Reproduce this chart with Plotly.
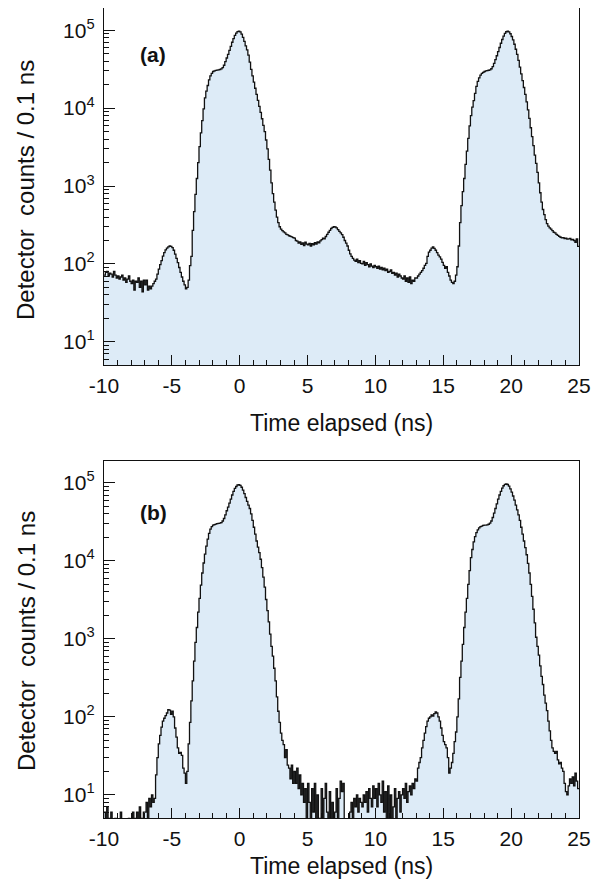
import numpy as np
import plotly.graph_objects as go

# ---------------- data (counts per 0.1 ns bin, bins start at -10.0 ns) ----------------
BIN_START = -10.0
BIN_WIDTH = 0.1

counts_a = [
    72, 78, 80, 70, 76, 74, 68, 80, 72, 66,            # -10
    70, 64, 68, 72, 62, 66, 58, 64, 70, 60,            # -9
    56, 62, 46, 60, 58, 66, 50, 60, 44, 62,            # -8
    54, 62, 46, 52, 48, 52, 56, 60, 64, 74,            # -7
    86, 98, 110, 126, 140, 152, 160, 166, 170, 168,    # -6
    162, 150, 134, 118, 104, 90, 78, 68, 60, 54,       # -5
    48, 50, 62, 95, 125, 270, 470, 780, 1250, 2000,    # -4
    3200, 4800, 6900, 9800, 13500, 16500, 19500, 23000, 26000, 28000,  # -3
    29500, 30000, 30500, 30800, 31000, 31300, 31800, 33000, 35500, 39500,  # -2
    44000, 49000, 55000, 62000, 70000, 78000, 86000, 92000, 96000, 97000,  # -1
    95000, 89000, 81000, 72000, 63000, 56000, 48000, 39000, 31500, 26000,  # 0
    21500, 18000, 15000, 12600, 10500, 8800, 7300, 6000, 5000, 3900,      # 1
    3000, 2200, 1600, 1100, 800, 620, 490, 400, 340, 300,                 # 2
    280, 268, 258, 250, 240, 236, 230, 226, 222, 218,  # 3
    215, 200, 196, 185, 192, 178, 186, 172, 190, 180,  # 4
    176, 184, 170, 182, 176, 188, 180, 192, 186, 198,  # 5
    205, 215, 210, 225, 240, 255, 270, 285, 295, 300,  # 6
    298, 290, 275, 262, 250, 238, 220, 200, 185, 170,  # 7
    150, 135, 125, 118, 112, 108, 115, 104, 110, 102,  # 8
    100, 108, 96, 104, 98, 92, 100, 94, 90, 96,        # 9
    92, 88, 94, 86, 90, 84, 88, 82, 86, 78,            # 10
    80, 84, 76, 78, 72, 76, 68, 74, 70, 66,            # 11
    64, 70, 60, 66, 58, 68, 56, 62, 60, 66,            # 12
    66, 70, 74, 78, 82, 88, 96, 102, 125, 142,         # 13
    150, 160, 166, 158, 150, 140, 130, 123, 115, 105,  # 14
    96, 88, 92, 78, 70, 62, 58, 56, 60, 72,            # 15
    92, 170, 340, 560, 850, 1250, 1900, 2800, 4100, 5900,                  # 16
    8000, 10300, 12500, 15500, 19000, 22000, 24500, 26500, 28000, 28800,   # 17
    29500, 30000, 30300, 30600, 31000, 32000, 34000, 37500, 42000, 47000,  # 18
    53000, 60000, 68000, 76000, 84000, 91000, 95500, 97000, 95000, 90000,  # 19
    83000, 75000, 66000, 57000, 49000, 41000, 33500, 27500, 22500, 18400,  # 20
    15000, 12000, 9500, 7400, 5600, 4300, 3300, 2500, 1950, 1500,          # 21
    1100, 820, 620, 500, 430, 370, 330, 305, 290, 280,                     # 22
    268, 255, 250, 240, 232, 226, 220, 216, 218, 212,  # 23
    214, 208, 210, 212, 204, 206, 200, 190, 210, 168,  # 24
]

counts_b = [
    6, 3, 7, 5, 3, 6, 3, 3, 5, 3,                      # -10
    3, 3, 6, 3, 3, 3, 3, 3, 5, 3,                      # -9
    3, 6, 3, 5, 6, 3, 7, 5, 3, 6,                      # -8
    6, 8, 5, 9, 7, 10, 8, 9, 18, 30,                   # -7
    45, 58, 74, 88, 96, 104, 112, 124, 122, 108,       # -6
    118, 100, 72, 55, 40, 34, 35, 32, 22, 19,          # -5
    14, 20, 45, 85, 160, 290, 520, 900, 1400, 2200,    # -4
    3300, 4900, 7000, 9400, 12200, 15500, 19000, 22500, 25500, 27500,     # -3
    28700, 29200, 29600, 30000, 30200, 30500, 31000, 32500, 35000, 39000, # -2
    44000, 49000, 55000, 62000, 70000, 78000, 85000, 90000, 94000, 95000, # -1
    93000, 88000, 81000, 73000, 65000, 58000, 52000, 47000, 40000, 33000, # 0
    27000, 22000, 18000, 15000, 12800, 10500, 8200, 6200, 4600, 3200,     # 1
    2300, 1650, 1150, 800, 600, 420, 290, 180, 118, 85,                   # 2
    62, 50, 44, 30, 38, 24, 22, 16, 24, 14,            # 3
    20, 14, 22, 12, 18, 10, 14, 8, 12, 3,              # 4
    14, 8, 3, 12, 6, 14, 3, 10, 5, 3,                  # 5
    12, 3, 9, 14, 6, 3, 11, 4, 8, 3,                   # 6
    6, 12, 4, 9, 15, 11, 14, 3, 3, 3,                  # 7
    3, 6, 8, 5, 9, 7, 10, 6, 9, 8,                     # 8
    7, 10, 8, 11, 6, 12, 9, 7, 13, 9,                  # 9
    12, 7, 14, 10, 8, 15, 6, 11, 3, 13,                # 10
    3, 10, 3, 7, 12, 3, 9, 11, 6, 10,                  # 11
    12, 9, 14, 8, 11, 13, 10, 14, 12, 16,              # 12
    15, 22, 26, 30, 40, 50, 62, 75, 88, 96,            # 13
    100, 106, 102, 110, 116, 112, 100, 88, 72, 58,     # 14
    48, 44, 40, 30, 19, 22, 26, 34, 48, 64,            # 15
    100, 170, 320, 520, 850, 1400, 2200, 3300, 5000, 7500,                # 16
    11000, 14000, 17500, 20500, 23000, 25000, 26500, 27500, 28000, 28500, # 17
    28700, 28800, 29000, 29500, 30500, 32500, 36000, 41000, 47000, 54000, # 18
    62000, 70000, 78000, 86000, 92000, 96000, 97000, 95500, 91000, 84000, # 19
    76000, 68000, 60000, 52000, 45000, 39000, 33000, 27000, 22000, 18000, # 20
    14800, 12000, 9300, 7000, 5000, 3500, 2400, 1600, 1050, 800,          # 21
    620, 450, 330, 260, 190, 150, 120, 88, 66, 50,     # 22
    40, 36, 34, 36, 28, 25, 26, 22, 20, 14,            # 23
    11, 10, 13, 16, 14, 17, 13, 19, 15, 12,            # 24
]

x_tick_vals = [-10, -5, 0, 5, 10, 15, 20, 25]
x_tick_text = ["-10", "-5", "0", "5", "10", "15", "20", "25"]
y_tick_vals = [10, 100, 1000, 10000, 100000]
y_tick_text = ["10<sup>1</sup>", "10<sup>2</sup>", "10<sup>3</sup>",
               "10<sup>4</sup>", "10<sup>5</sup>"]
panel_labels = ["(a)", "(b)"]
x_title = "Time elapsed (ns)"
y_title = "Detector  counts / 0.1 ns"

# ---------------- figure ----------------
FONT = "Liberation Sans, Arial, Helvetica, sans-serif"
FILL = "rgb(221,235,247)"
INK = "#111111"

# the page body adds an 8px offset; figure sized/positioned to compensate
OFF = 8
W, H = 591, 874
ML, MR, MT, MB = 96, 20, 0, 64
plot_h = H - MT - MB
plot_w = W - ML - MR


def py2paper(py):
    # py: page pixel coordinate
    return (plot_h - (py - OFF - MT)) / plot_h


def px2paper(px):
    return (px - OFF - ML) / plot_w


fig = go.Figure()

minor_y = [m * 10 ** k for k in range(0, 6) for m in range(2, 10)]

for i, counts in enumerate([counts_a, counts_b]):
    n = len(counts)
    edges = BIN_START + BIN_WIDTH * np.arange(n + 1)
    yvals = list(counts) + [counts[-1]]
    xa = "x" if i == 0 else "x2"
    ya = "y" if i == 0 else "y2"
    # baseline (below axis range) so the fill reaches the bottom of the plot
    fig.add_trace(go.Scatter(x=[edges[0], edges[-1]], y=[1, 1], mode="lines",
                             line=dict(width=0, color=FILL), xaxis=xa, yaxis=ya,
                             showlegend=False, hoverinfo="skip"))
    fig.add_trace(go.Scatter(x=edges, y=yvals, mode="lines", line_shape="hv",
                             line=dict(color=INK, width=1.3), fill="tonexty",
                             fillcolor=FILL, xaxis=xa, yaxis=ya, showlegend=False))

xaxis_common = dict(
    range=[-10, 25], tickmode="array", tickvals=x_tick_vals, ticktext=x_tick_text,
    ticks="inside", ticklen=10, tickwidth=1.2, tickcolor=INK,
    minor=dict(ticks="inside", ticklen=5, tickwidth=1.2, tickcolor=INK, dtick=1, tick0=0),
    showline=True, linecolor=INK, linewidth=1.3, mirror=True,
    showgrid=False, zeroline=False,
    tickfont=dict(family=FONT, size=21, color=INK), ticklabelstandoff=2,
)
yaxis_common = dict(
    type="log", range=[0.703, 5.285], tickmode="array",
    tickvals=y_tick_vals, ticktext=y_tick_text,
    ticks="inside", ticklen=11, tickwidth=1.2, tickcolor=INK,
    minor=dict(ticks="inside", ticklen=5, tickwidth=1.0, tickcolor=INK,
               tickmode="array", tickvals=minor_y),
    showline=True, linecolor=INK, linewidth=1.3, mirror=True,
    showgrid=False, zeroline=False,
    tickfont=dict(family=FONT, size=21, color=INK), ticklabelstandoff=4,
)

top_a = 1.0
bot_a = py2paper(365)
top_b = py2paper(460.7)
bot_b = max(0.0, py2paper(818))

fig.update_layout(
    width=W, height=H,
    margin=dict(l=ML, r=MR, t=MT, b=MB, autoexpand=False),
    paper_bgcolor="white", plot_bgcolor="white",
    xaxis=dict(domain=[0, 1], anchor="y", **xaxis_common),
    yaxis=dict(domain=[bot_a, top_a], anchor="x", **yaxis_common),
    xaxis2=dict(domain=[0, 1], anchor="y2", **xaxis_common),
    yaxis2=dict(domain=[bot_b, top_b], anchor="x2", **yaxis_common),
    font=dict(family=FONT, color=INK),
)

annotations = []
# panel labels
for lab, py in zip(panel_labels, [54, 512.5]):
    annotations.append(dict(text="<b>%s</b>" % lab, x=px2paper(153), y=py2paper(py),
                            xref="paper", yref="paper", showarrow=False,
                            font=dict(family=FONT, size=21, color=INK),
                            xanchor="center", yanchor="middle"))
# x titles
for py in [423, 866]:
    annotations.append(dict(text=x_title, x=0.5, y=py2paper(py), xref="paper", yref="paper",
                            showarrow=False, font=dict(family=FONT, size=23, color=INK),
                            xanchor="center", yanchor="middle"))
# y titles
for py in [190, 641]:
    annotations.append(dict(text=y_title, x=px2paper(26), y=py2paper(py), xref="paper",
                            yref="paper", showarrow=False, textangle=-90,
                            font=dict(family=FONT, size=24, color=INK),
                            xanchor="center", yanchor="middle"))
fig.update_layout(annotations=annotations)

fig.write_html("out.html")
